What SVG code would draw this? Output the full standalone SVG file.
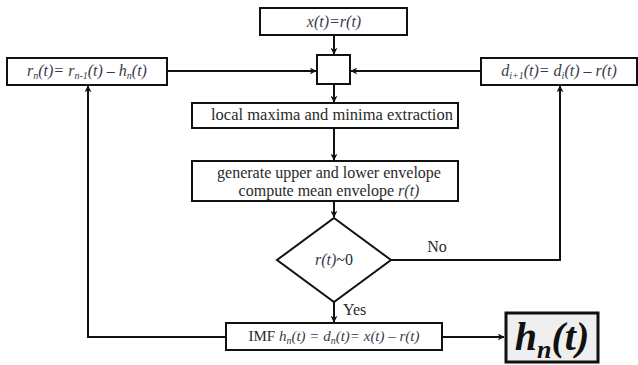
<svg xmlns="http://www.w3.org/2000/svg" width="638" height="365" viewBox="0 0 638 365">
<style>
.box{fill:#fff;stroke:#111;stroke-width:2}
.ln{fill:none;stroke:#111;stroke-width:2}
.t{font-family:"Liberation Serif","Times New Roman",serif;font-size:16px;fill:#2a2a2a;text-anchor:middle}
.i{font-style:italic;fill:#3a3a4a}
.s{font-size:10px}
</style>
<defs>
<marker id="ah" viewBox="0 0 10 10" refX="9" refY="5" markerWidth="7" markerHeight="7" orient="auto" markerUnits="userSpaceOnUse">
<path d="M0,0 L10,5 L0,10 L3,5 z" fill="#111"/>
</marker>
</defs>
<rect width="638" height="365" fill="#fff"/>
<g id="connectors">
<line class="ln" x1="334" y1="35" x2="334" y2="54" marker-end="url(#ah)"/>
<line class="ln" x1="167" y1="71" x2="316" y2="71" marker-end="url(#ah)"/>
<line class="ln" x1="481" y1="71" x2="351" y2="71" marker-end="url(#ah)"/>
<line class="ln" x1="334" y1="84" x2="334" y2="102" marker-end="url(#ah)"/>
<line class="ln" x1="334" y1="128" x2="334" y2="160" marker-end="url(#ah)"/>
<line class="ln" x1="334" y1="201" x2="334" y2="217" marker-end="url(#ah)"/>
<polyline class="ln" points="391,260 560,260 560,86" marker-end="url(#ah)"/>
<line class="ln" x1="334" y1="302" x2="334" y2="322" marker-end="url(#ah)"/>
<polyline class="ln" points="226,337 88,337 88,86" marker-end="url(#ah)"/>
<line class="ln" x1="442" y1="337" x2="504" y2="337" marker-end="url(#ah)"/>
<text class="t" x="437" y="252">No</text>
<text class="t" x="343" y="315" style="text-anchor:start">Yes</text>
</g>
<g id="start">
<rect class="box" x="260" y="8" width="147" height="27"/>
<text class="t i" x="334" y="27">x(t)=r(t)</text>
</g>
<g id="junction">
<rect class="box" x="317" y="55" width="33" height="29"/>
</g>
<g id="residue">
<rect class="box" x="7" y="58" width="160" height="27"/>
<text class="t i" x="87" y="76">r<tspan class="s" dy="3">n</tspan><tspan dy="-3">(t)= r</tspan><tspan class="s" dy="3">n-1</tspan><tspan dy="-3">(t) – h</tspan><tspan class="s" dy="3">n</tspan><tspan dy="-3">(t)</tspan></text>
</g>
<g id="update">
<rect class="box" x="481" y="58" width="156" height="27"/>
<text class="t i" x="559" y="76">d<tspan class="s" dy="3">i+1</tspan><tspan dy="-3">(t)= d</tspan><tspan class="s" dy="3">i</tspan><tspan dy="-3">(t) – r(t)</tspan></text>
</g>
<g id="extrema">
<rect class="box" x="192" y="103" width="266" height="25"/>
<text class="t" x="332" y="120" style="font-size:16.5px">local maxima and minima extraction</text>
</g>
<g id="envelope">
<rect class="box" x="192" y="161" width="266" height="40"/>
<text class="t" x="329" y="178">generate upper and lower envelope</text>
<text class="t" x="329" y="196">compute mean envelope <tspan class="i">r(t)</tspan></text>
</g>
<g id="decision">
<polygon class="box" points="334,218 391,260 334,302 277,260"/>
<text class="t" x="334" y="265"><tspan class="i">r(t)</tspan>~0</text>
</g>
<g id="imf">
<rect class="box" x="226" y="323" width="216" height="27"/>
<text class="t" x="334" y="341" style="font-size:15px">IMF <tspan class="i">h</tspan><tspan class="i s" dy="3">n</tspan><tspan class="i" dy="-3">(t) = d</tspan><tspan class="i s" dy="3">n</tspan><tspan class="i" dy="-3">(t)= x(t) – r(t)</tspan></text>
</g>
<g id="output">
<rect x="506" y="313" width="92" height="49" fill="#efefef" stroke="#111" stroke-width="3"/>
<text class="t" x="552" y="350" style="font-size:40px;font-weight:bold;font-style:italic;fill:#111">h<tspan dy="8" style="font-size:26px">n</tspan><tspan dy="-8">(t)</tspan></text>
</g>
</svg>
